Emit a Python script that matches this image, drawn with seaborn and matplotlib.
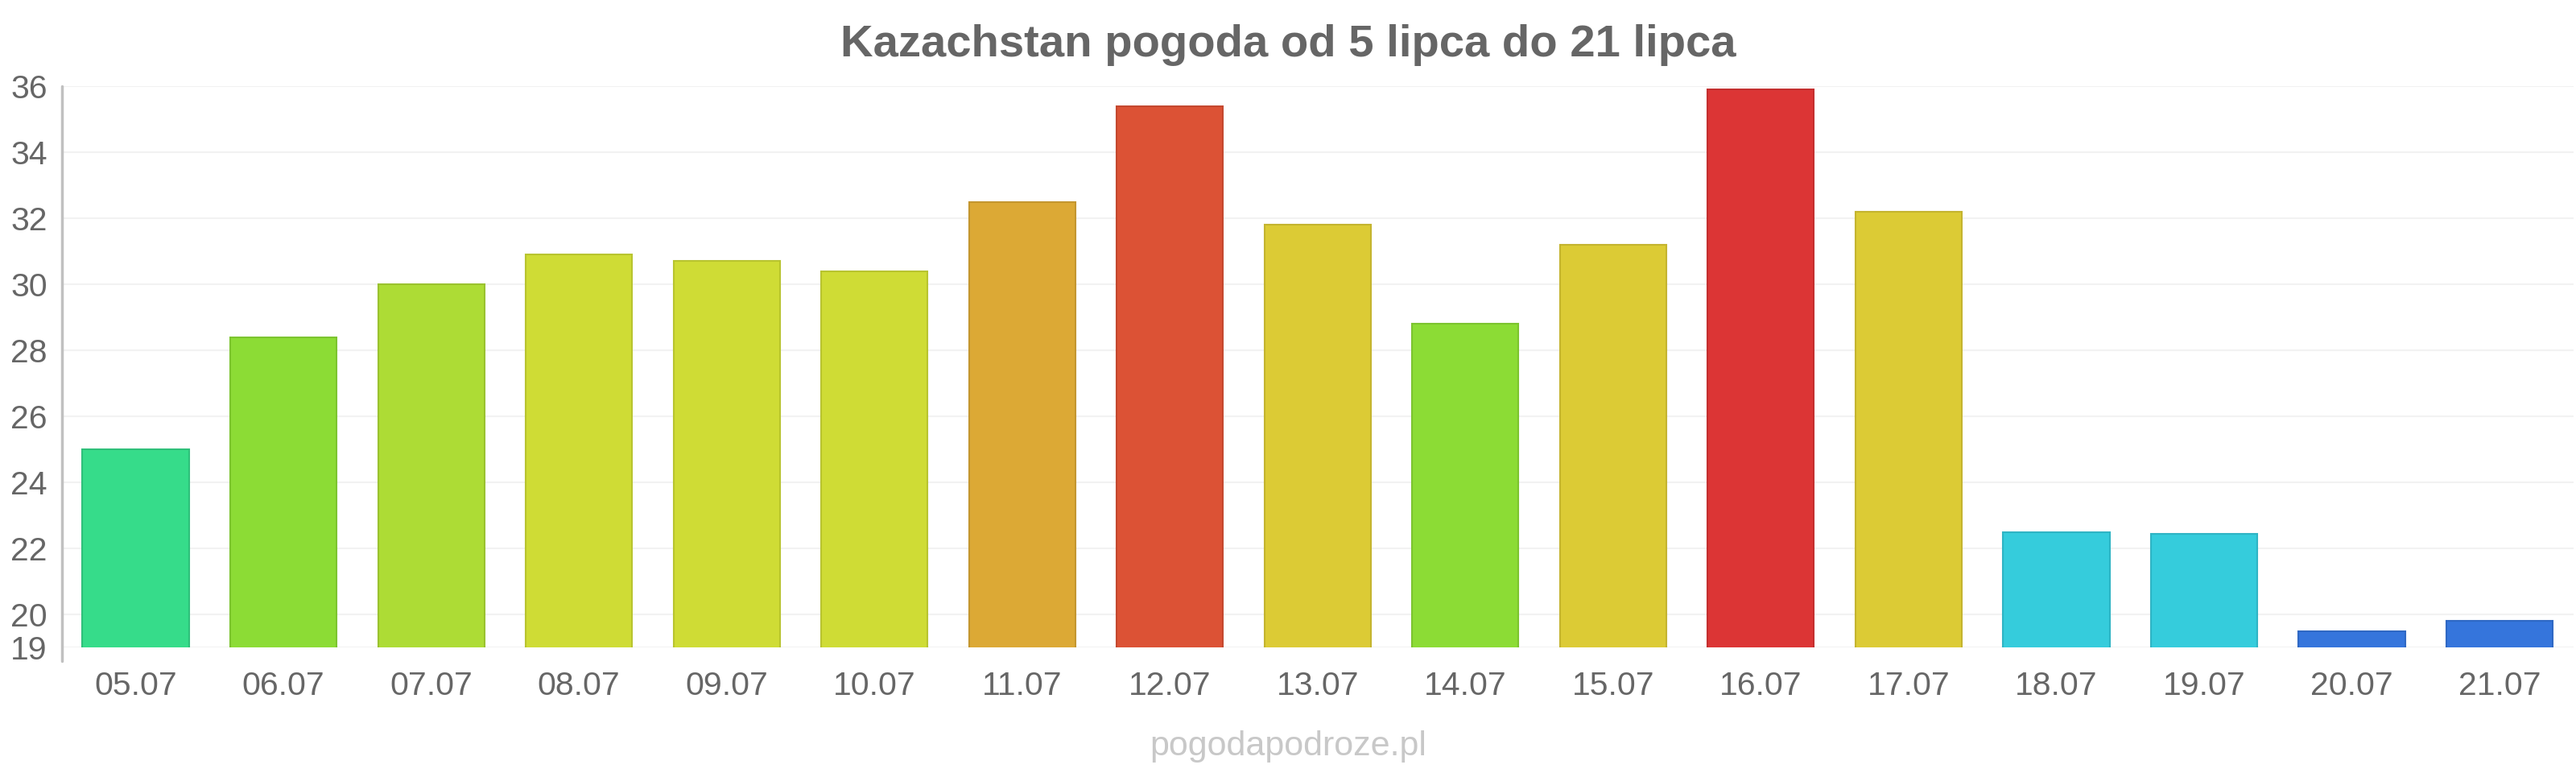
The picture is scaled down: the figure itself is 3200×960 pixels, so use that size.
import matplotlib
matplotlib.use("Agg")
import matplotlib.pyplot as plt
import seaborn as sns
import pandas as pd

dates = ["05.07", "06.07", "07.07", "08.07", "09.07", "10.07", "11.07", "12.07", "13.07",
         "14.07", "15.07", "16.07", "17.07", "18.07", "19.07", "20.07", "21.07"]
temps = [25.0, 28.4, 30.0, 30.9, 30.7, 30.4, 32.5, 35.4, 31.8,
         28.8, 31.2, 35.9, 32.2, 22.5, 22.45, 19.5, 19.8]
colors = ["#36dc8a", "#8cdc35", "#addc35", "#cfdc35", "#cfdc35", "#cfdc35", "#dca935", "#dc5235", "#dccb35",
          "#8cdc35", "#dccb35", "#dc3535", "#dccb35", "#35ccdc", "#35ccdc", "#3575dc", "#3575dc"]
edges = ["#2fc07a", "#7cc42f", "#9ac22f", "#b8c42f", "#b8c42f", "#b8c42f", "#c4962f", "#c4482f", "#c4b42f",
         "#7cc42f", "#c4b42f", "#c42f2f", "#c4b42f", "#2fb4c4", "#2fb4c4", "#2f68c4", "#2f68c4"]
yticks = [19, 20, 22, 24, 26, 28, 30, 32, 34, 36]

title = "Kazachstan pogoda od 5 lipca do 21 lipca"
watermark = "pogodapodroze.pl"

sns.set_theme(style="white")
plt.rcParams['font.family'] = ['Liberation Sans', 'DejaVu Sans']

df = pd.DataFrame({"date": dates, "temp": temps})

fig = plt.figure(figsize=(32, 9.6), dpi=100)
ax = fig.add_axes([0.024, 0.1625, 0.975, 0.726])

sns.barplot(data=df, x="date", y="temp", hue="date", palette=colors, legend=False,
            width=0.72, saturation=1, ax=ax, zorder=3, linewidth=1.5)
for patch, ec in zip(ax.patches, edges):
    patch.set_edgecolor(ec)

ax.set_ylim(19, 36)
ax.set_xlim(-0.5, len(dates) - 0.5)
ax.set_yticks(yticks)
ax.set_yticklabels([str(t) for t in yticks])
ax.grid(axis="y", color="#f2f2f2", linewidth=1.5, zorder=0)
ax.grid(axis="x", visible=False)
for s in ["top", "right", "bottom", "left"]:
    ax.spines[s].set_visible(False)
ax.plot([0, 0], [-0.025, 1.0], transform=ax.transAxes, color="#c0c0c0", lw=2.5, clip_on=False, zorder=4)

ax.set_xlabel("")
ax.set_ylabel("")
ax.tick_params(axis="x", labelsize=29.5, colors="#666666", pad=21, length=0)
ax.tick_params(axis="y", labelsize=29.5, colors="#666666", pad=13, length=0)

fig.text(0.5, 0.942, title, ha="center", va="center", fontsize=40.5, fontweight="bold", color="#666666")
fig.text(0.5, 0.034, watermark, ha="center", va="center", fontsize=31, color="#c8c8c8")

fig.savefig("out.png", dpi=100, facecolor="white")
